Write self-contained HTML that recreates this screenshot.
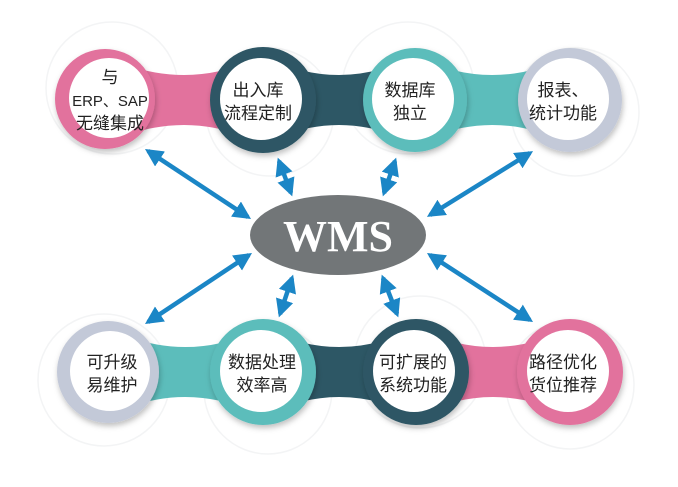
<!DOCTYPE html>
<html><head><meta charset="utf-8"><style>
html,body{margin:0;padding:0;background:#fff;}
svg{display:block}
text{font-family:"Liberation Sans","Noto Sans CJK SC",sans-serif;font-size:17px;fill:#222;text-anchor:middle}
</style></head><body>
<svg width="678" height="487" viewBox="0 0 678 487" xmlns="http://www.w3.org/2000/svg">
<defs>
<marker id="ah" viewBox="0 0 10 10" refX="8" refY="5" markerWidth="4" markerHeight="4" orient="auto-start-reverse">
<path d="M0,0 L10,5 L0,10 z" fill="#1b86c6"/></marker>
<filter id="sh" x="-30%" y="-30%" width="160%" height="160%"><feDropShadow dx="1" dy="3" stdDeviation="3" flood-color="#000" flood-opacity="0.25"/></filter>
</defs>
<g fill="none" stroke="#f3f4f5" stroke-width="1.5">
<circle cx="112" cy="88" r="66"/><circle cx="270" cy="112" r="64"/><circle cx="408" cy="88" r="66"/><circle cx="575" cy="112" r="64"/>
<circle cx="104" cy="380" r="66"/><circle cx="268" cy="390" r="64"/><circle cx="420" cy="362" r="66"/><circle cx="570" cy="385" r="64"/>
</g>
<!-- bands top -->
<path d="M105 56 Q184 94 263 56 L263 144 Q184 106 105 144Z" fill="#e2729d"/>
<path d="M263 56 Q339 94 415 56 L415 144 Q339 106 263 144Z" fill="#2d5765"/>
<path d="M415 56 Q492 94 570 56 L570 144 Q492 106 415 144Z" fill="#5cbdbb"/>
<!-- bands bottom -->
<path d="M108 328 Q185 366 263 328 L263 416 Q185 378 108 416Z" fill="#5cbdbb"/>
<path d="M263 328 Q339 366 416 328 L416 416 Q339 378 263 416Z" fill="#2d5765"/>
<path d="M416 328 Q493 366 570 328 L570 416 Q493 378 416 416Z" fill="#e2729d"/>
<!-- circles -->
<g filter="url(#sh)">
<circle cx="105" cy="99" r="50" fill="#e2729d"/>
<circle cx="263" cy="100" r="53" fill="#2d5765"/>
<circle cx="415" cy="100" r="52" fill="#5cbdbb"/>
<circle cx="570" cy="100" r="52" fill="#c3c9d8"/>
<circle cx="108" cy="372" r="51" fill="#c3c9d8"/>
<circle cx="263" cy="372" r="53" fill="#5cbdbb"/>
<circle cx="416" cy="372" r="53" fill="#2d5765"/>
<circle cx="570" cy="372" r="53" fill="#e2729d"/>
</g>
<g fill="#fff">
<circle cx="109" cy="98" r="40"/><circle cx="261" cy="99" r="41"/><circle cx="413" cy="99" r="41"/><circle cx="568" cy="99" r="41"/>
<circle cx="110" cy="371" r="40"/><circle cx="261" cy="371" r="41"/><circle cx="414" cy="371" r="41"/><circle cx="568" cy="371" r="41"/>
</g>
<text x="110" y="83">与</text><text x="110" y="106" style="font-size:15px">ERP、SAP</text><text x="110" y="129">无缝集成</text>
<text x="258" y="96">出入库</text><text x="258" y="119">流程定制</text>
<text x="410" y="96">数据库</text><text x="410" y="119">独立</text>
<text x="563" y="96">报表、</text><text x="563" y="119">统计功能</text>
<text x="112" y="368">可升级</text><text x="112" y="391">易维护</text>
<text x="262" y="368">数据处理</text><text x="262" y="391">效率高</text>
<text x="413" y="368">可扩展的</text><text x="413" y="391">系统功能</text>
<text x="563" y="368">路径优化</text><text x="563" y="391">货位推荐</text>
<!-- arrows -->
<g stroke="#1b86c6" stroke-width="4.5" marker-start="url(#ah)" marker-end="url(#ah)">
<line x1="148" y1="151" x2="248" y2="217"/>
<line x1="279" y1="161" x2="291" y2="193"/>
<line x1="395" y1="161" x2="384" y2="193"/>
<line x1="530" y1="153" x2="430" y2="215"/>
<line x1="249" y1="255" x2="148" y2="322"/>
<line x1="292" y1="278" x2="280" y2="314"/>
<line x1="383" y1="278" x2="397" y2="314"/>
<line x1="430" y1="255" x2="530" y2="320"/>
</g>
<ellipse cx="338" cy="235" rx="88" ry="40" fill="#727678"/>
<text x="338" y="251" style="font-family:'Liberation Serif',serif;font-size:44px;font-weight:bold;fill:#fff">WMS</text>
</svg>
</body></html>
